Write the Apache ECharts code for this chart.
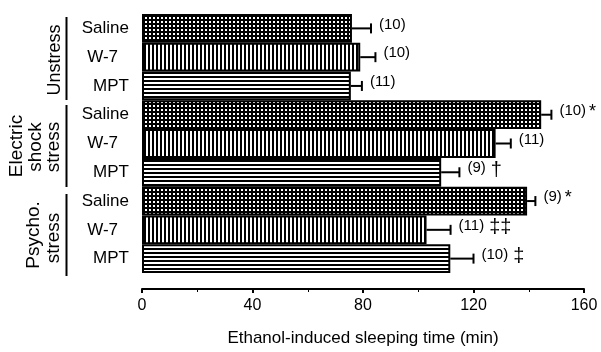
<!DOCTYPE html>
<html>
<head>
<meta charset="utf-8">
<script src="https://cdn.jsdelivr.net/npm/echarts@6/dist/echarts.min.js"></script>
<style>
  html, body { margin: 0; padding: 0; background: #fff; }
  #main { width: 601px; height: 352px; }
</style>
</head>
<body>
<div id="main"></div>
<script>
// data, top to bottom
var drugs = ['Saline', 'W-7', 'MPT', 'Saline', 'W-7', 'MPT', 'Saline', 'W-7', 'MPT'];
var sleepTime = [76, 79, 75.6, 144.5, 128, 108.3, 139.4, 103, 111.6];
var sem = [6.9, 5.5, 4.0, 3.7, 5.5, 6.6, 3.0, 8.7, 8.4];
var nAnimals = [10, 10, 11, 10, 11, 9, 9, 11, 10];
var marks = ['', '', '', '*', '', '\u2020', '*', '\u2021\u2021', '\u2021'];
var xMin = 0, xMax = 160, xStep = 40;

var FONT = '"Liberation Sans", Arial, sans-serif';

// fill patterns
function makePattern(type) {
    var c = document.createElement('canvas');
    c.width = 4; c.height = 4;
    var ctx = c.getContext('2d');
    ctx.fillStyle = '#000';
    ctx.fillRect(0, 0, 4, 4);
    ctx.fillStyle = '#fff';
    if (type == 'dots') ctx.fillRect(1, 1, 2, 2);
    if (type == 'vert') ctx.fillRect(2, 0, 2, 4);
    if (type == 'horz') ctx.fillRect(0, 2, 4, 2);
    return { image: c, repeat: 'repeat' };
}
var patterns = {
    'Saline': makePattern('dots'),
    'W-7': makePattern('vert'),
    'MPT': makePattern('horz')
};

// text width helper
var mctx = document.createElement('canvas').getContext('2d');
function textWidth(t, size) {
    mctx.font = size + 'px ' + FONT;
    return mctx.measureText(t).width;
}

function renderErr(params, api) {
    var i = params.dataIndex;
    var v = api.value(0);
    var p0 = api.coord([v, i]);
    var p1 = api.coord([v + sem[i], i]);
    var ty = p0[1] - 4;
    var lab = '(' + nAnimals[i] + ')';
    var lx = p1[0] + 8;
    var kids = [
        { type: 'line', shape: { x1: p0[0], y1: p0[1], x2: p1[0], y2: p1[1] }, style: { stroke: '#000', lineWidth: 2 } },
        { type: 'line', shape: { x1: p1[0], y1: p1[1] - 5, x2: p1[0], y2: p1[1] + 5 }, style: { stroke: '#000', lineWidth: 2 } },
        { type: 'text', x: lx, y: ty, style: { text: lab, fontSize: 15, fontFamily: FONT, fill: '#000', verticalAlign: 'middle', align: 'left' } }
    ];
    if (marks[i]) {
        var star = marks[i] == '*';
        kids.push({
            type: 'text',
            x: lx + textWidth(lab, 15) + (star ? 3 : 5),
            y: ty - 8,
            style: { text: marks[i], fontSize: star ? 18 : 20, fontFamily: FONT, fill: '#000', verticalAlign: 'top', align: 'left' }
        });
    }
    return { type: 'group', children: kids };
}

var chart = echarts.init(document.getElementById('main'));
chart.setOption({
    animation: false,
    backgroundColor: '#fff',
    grid: { left: 142, right: 17, top: 14, bottom: 75 },
    xAxis: {
        type: 'value',
        min: xMin,
        max: xMax,
        interval: xStep,
        offset: 16,
        axisLine: { show: true, lineStyle: { color: '#000', width: 2 } },
        axisTick: { show: true, length: 4, lineStyle: { color: '#000', width: 2 } },
        minorTick: { show: true, splitNumber: 2, length: 3, lineStyle: { color: '#000', width: 1 } },
        splitLine: { show: false },
        axisLabel: { color: '#000', fontSize: 16, fontFamily: FONT, margin: 9 },
        name: 'Ethanol-induced sleeping time (min)',
        nameLocation: 'middle',
        nameGap: 41,
        nameTextStyle: { color: '#000', fontSize: 17, fontFamily: FONT }
    },
    yAxis: {
        type: 'category',
        inverse: true,
        data: drugs.map(function (d, i) { return String(i); }),
        axisLine: { show: false },
        axisTick: { show: false },
        axisLabel: {
            color: '#000',
            fontSize: 17,
            fontFamily: FONT,
            margin: 13,
            formatter: function (val) {
                var d = drugs[+val];
                return d == 'W-7' ? '{w|' + d + '}' : d;
            },
            rich: { w: { fontSize: 17, fontFamily: FONT, color: '#000', padding: [0, 11, 0, 0] } }
        }
    },
    series: [
        {
            type: 'bar',
            barWidth: '100%',
            data: sleepTime.map(function (v, i) {
                return { value: v, itemStyle: { color: patterns[drugs[i]] } };
            }),
            itemStyle: { borderColor: '#000', borderWidth: 2 }
        },
        {
            type: 'custom',
            renderItem: renderErr,
            encode: { x: 0, y: 1 },
            data: sleepTime.map(function (v, i) { return [v, i]; }),
            z: 5
        }
    ],
    graphic: [
        // group brackets
        { type: 'line', shape: { x1: 66.5, y1: 17, x2: 66.5, y2: 100 }, style: { stroke: '#000', lineWidth: 2 } },
        { type: 'line', shape: { x1: 66.5, y1: 105, x2: 66.5, y2: 187 }, style: { stroke: '#000', lineWidth: 2 } },
        { type: 'line', shape: { x1: 66.5, y1: 194, x2: 66.5, y2: 276 }, style: { stroke: '#000', lineWidth: 2 } },
        // group names
        { type: 'text', x: 55, y: 60, rotation: Math.PI / 2, style: { text: 'Unstress', fontSize: 18, fontFamily: FONT, fill: '#000', align: 'center', verticalAlign: 'middle' } },
        { type: 'text', x: 17, y: 146, rotation: Math.PI / 2, style: { text: 'Electric', fontSize: 19, fontFamily: FONT, fill: '#000', align: 'center', verticalAlign: 'middle' } },
        { type: 'text', x: 36, y: 147, rotation: Math.PI / 2, style: { text: 'shock', fontSize: 19, fontFamily: FONT, fill: '#000', align: 'center', verticalAlign: 'middle' } },
        { type: 'text', x: 54, y: 147, rotation: Math.PI / 2, style: { text: 'stress', fontSize: 19, fontFamily: FONT, fill: '#000', align: 'center', verticalAlign: 'middle' } },
        { type: 'text', x: 34, y: 235, rotation: Math.PI / 2, style: { text: 'Psycho.', fontSize: 19, fontFamily: FONT, fill: '#000', align: 'center', verticalAlign: 'middle' } },
        { type: 'text', x: 54, y: 238, rotation: Math.PI / 2, style: { text: 'stress', fontSize: 19, fontFamily: FONT, fill: '#000', align: 'center', verticalAlign: 'middle' } }
    ]
});
</script>
</body>
</html>
